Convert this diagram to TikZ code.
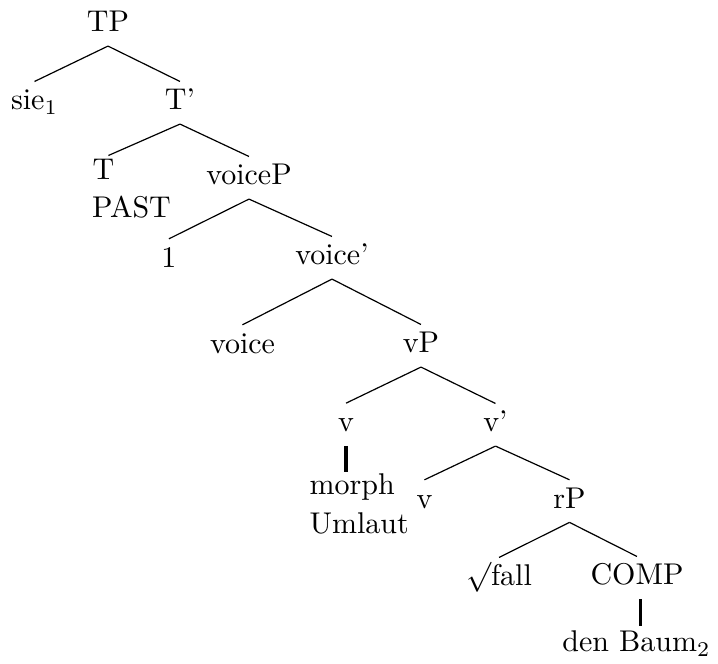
\documentclass[tikz,border=0pt]{standalone}
\usetikzlibrary{calc}
\begin{document}
\begin{tikzpicture}[x=0.33333pt,y=-0.33333pt,
  lbl/.style={inner sep=0pt, text height=9.3pt, text depth=4.5pt, anchor=base},
  lblw/.style={lbl, anchor=base west},
  edge/.style={line width=0.4pt},
  stem/.style={line width=1.3pt}]
\useasboundingbox (0,0) rectangle (718,664);
% nodes
\node[lbl] (TP) at (108,32) {TP};
\node[lbl] (sie) at (34.5,110) {sie$_1$};
\node[lbl] (Tbar) at (180,110) {T'};
\node[lblw] (T) at (92,180) {T};
\node[lblw] (PAST) at (91.5,218) {PAST};
\node[lbl] (voiceP) at (249,185) {voiceP};
\node[lbl] (one) at (169,267.3) {1};
\node[lbl] (voicebar) at (332,265) {voice'};
\node[lbl] (voice) at (242.5,353.3) {voice};
\node[lbl] (vP) at (421,353) {vP};
\node[lbl] (v1) at (346,431.7) {v};
\node[lbl] (vbar) at (495.5,432) {v'};
\node[lblw] (morph) at (309,495) {morph};
\node[lblw] (Umlaut) at (309,533.3) {Umlaut};
\node[lbl] (v2) at (424.5,508.3) {v};
\node[lbl] (rP) at (569.5,508.3) {rP};
\node[lbl] (root) at (499,586) {$\sqrt{\vphantom{f}}$fall};
\node[lbl] (COMP) at (637,585) {COMP};
\node[lbl] (Baum) at (636.5,652) {den Baum$_2$};
% edges
\draw[edge] (TP.south) -- (sie.north);
\draw[edge] (TP.south) -- (Tbar.north);
\draw[edge] (Tbar.south) -- ($(T.north)+(5,4)$);
\draw[edge] (Tbar.south) -- (voiceP.north);
\draw[edge] (voiceP.south) -- (one.north);
\draw[edge] (voiceP.south) -- (voicebar.north);
\draw[edge] (voicebar.south) -- (voice.north);
\draw[edge] (voicebar.south) -- (vP.north);
\draw[edge] (vP.south) -- (v1.north);
\draw[edge] (vP.south) -- (vbar.north);
\draw[edge] (vbar.south) -- (v2.north);
\draw[edge] (vbar.south) -- (rP.north);
\draw[edge] (rP.south) -- (root.north);
\draw[edge] (rP.south) -- (COMP.north);
\draw[stem] (v1.south) -- ($(v1.south |- morph.north)+(0,6)$);
\draw[stem] ($(COMP.south)+(3.5,0)$) -- ($(COMP.south |- Baum.north)+(3.5,3)$);
\end{tikzpicture}
\end{document}
